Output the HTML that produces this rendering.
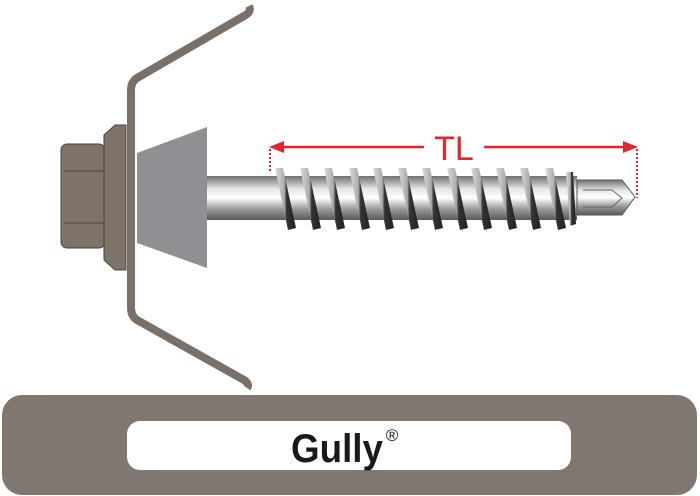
<!DOCTYPE html>
<html><head><meta charset="utf-8"><style>
html,body{margin:0;padding:0;background:#fff;width:700px;height:496px;overflow:hidden}
</style></head><body>
<svg width="700" height="496" viewBox="0 0 700 496" xmlns="http://www.w3.org/2000/svg">
<defs>
<linearGradient id="sh" x1="0" y1="0" x2="0" y2="1">
<stop offset="0" stop-color="#707070"/><stop offset="0.3" stop-color="#e8e8e8"/><stop offset="0.5" stop-color="#ffffff"/><stop offset="0.75" stop-color="#9a9a9a"/><stop offset="1" stop-color="#5a5a5a"/>
</linearGradient>
<linearGradient id="th" x1="0" y1="0" x2="1" y2="0">
<stop offset="0" stop-color="#ddd"/><stop offset="0.45" stop-color="#aaa"/><stop offset="0.55" stop-color="#333"/><stop offset="1" stop-color="#222"/>
</linearGradient>
</defs>
<path d="M249,6 Q252,12 244,16 L137,78 Q131,82 131,90 L131,308 Q131,316 137,320 L244,380 Q250,384 247,388" fill="none" stroke="#7a7068" stroke-width="8" stroke-linejoin="round"/>
<rect x="61" y="144" width="44" height="104" rx="6" fill="#7d7369" stroke="#4a433d" stroke-width="1"/>
<line x1="64" y1="171" x2="105" y2="171" stroke="#4a433d"/>
<line x1="64" y1="223" x2="105" y2="223" stroke="#4a433d"/>
<path d="M115,125 L126,125 L126,270 L115,270 L104,260 L104,135 Z" fill="#7d7369" stroke="#4a433d"/>
<path d="M137,153 L207,127 L207,268 L137,243 Z" fill="#8f9093"/>
<rect x="207" y="176" width="370" height="44" fill="url(#sh)"/>
<g>
<path d="M275,168 L283,168 L296,228 L288,230 Z" fill="url(#th)"/>
<path d="M300,168 L308,168 L321,228 L313,230 Z" fill="url(#th)"/>
<path d="M324,168 L332,168 L345,228 L337,230 Z" fill="url(#th)"/>
<path d="M349,168 L357,168 L370,228 L362,230 Z" fill="url(#th)"/>
<path d="M373,168 L381,168 L394,228 L386,230 Z" fill="url(#th)"/>
<path d="M398,168 L406,168 L419,228 L411,230 Z" fill="url(#th)"/>
<path d="M422,168 L430,168 L443,228 L435,230 Z" fill="url(#th)"/>
<path d="M447,168 L455,168 L468,228 L460,230 Z" fill="url(#th)"/>
<path d="M471,168 L479,168 L492,228 L484,230 Z" fill="url(#th)"/>
<path d="M496,168 L504,168 L517,228 L509,230 Z" fill="url(#th)"/>
<path d="M520,168 L528,168 L541,228 L533,230 Z" fill="url(#th)"/>
<path d="M545,168 L553,168 L566,228 L558,230 Z" fill="url(#th)"/>
<path d="M566,172 L573,172 L576,224 L570,226 Z" fill="url(#th)"/>
</g>
<path d="M577,180 L622,180 L635,197 L622,215 L577,215 Z" fill="url(#sh)" stroke="#555" stroke-width="1"/>
<path d="M583,190 L612,190 L622,198 L612,207 L583,207" fill="none" stroke="#666" stroke-width="1"/>
<line x1="280" y1="147" x2="424" y2="147" stroke="#e3262b" stroke-width="2.5"/>
<line x1="484" y1="147" x2="628" y2="147" stroke="#e3262b" stroke-width="2.5"/>
<polygon points="269,147 284,141 284,153" fill="#e3262b"/>
<polygon points="638,147 623,141 623,153" fill="#e3262b"/>
<line x1="270" y1="149" x2="270" y2="173" stroke="#e3262b" stroke-width="2" stroke-dasharray="2,2"/>
<line x1="637" y1="149" x2="637" y2="198" stroke="#e3262b" stroke-width="2" stroke-dasharray="2,2"/>
<text x="454" y="160" text-anchor="middle" font-family="Liberation Sans, sans-serif" font-size="34" fill="#e3262b">TL</text>
<rect x="2" y="395" width="695" height="100" rx="20" fill="#807870"/>
<rect x="127" y="421" width="444" height="49" rx="13" fill="#fff"/>
<text x="337" y="462" text-anchor="middle" font-family="Liberation Sans, sans-serif" font-weight="bold" font-size="40" fill="#1a1a1a" textLength="92" lengthAdjust="spacingAndGlyphs">Gully</text>
<text x="392" y="441" text-anchor="middle" font-family="Liberation Sans, sans-serif" font-size="17" fill="#1a1a1a">®</text>
</svg>
</body></html>
